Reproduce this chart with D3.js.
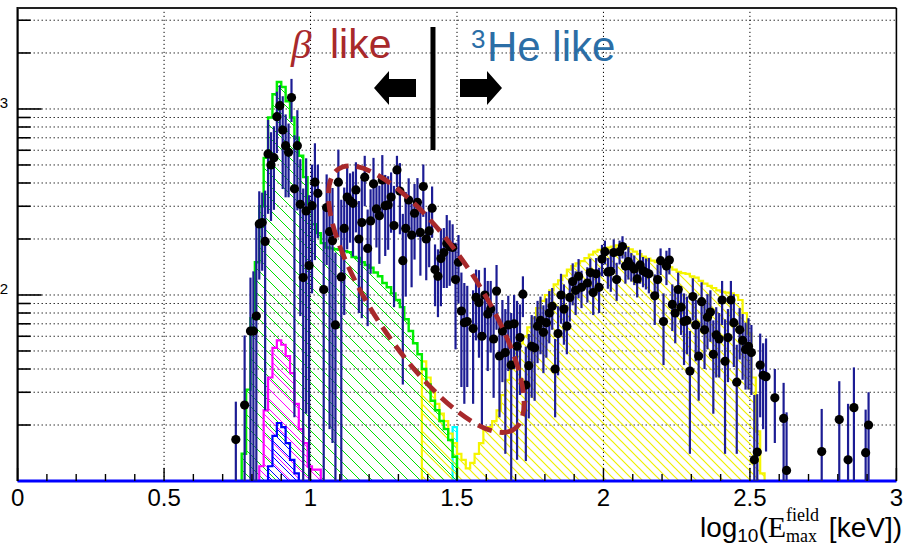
<!DOCTYPE html>
<html><head><meta charset="utf-8">
<script src="https://cdn.jsdelivr.net/npm/d3@7/dist/d3.min.js"></script>
<style>html,body{margin:0;padding:0;background:#fff}svg{display:block}</style>
</head><body>
<svg id="chart" width="906" height="547"></svg>
<script>
// ---------------- data ----------------
const xTickValues = [0, 0.5, 1, 1.5, 2, 2.5, 3];
const xTickLabels = ["0", "0.5", "1", "1.5", "2", "2.5", "3"];
const yLabelValues = [100, 1000];
const yLabelTexts = ["2", "3"];

const histBinWidth = 0.015;
const betaStart = 0.765;
const betaCounts = [14,31,75,150,300,546,900,1200,1397,1313,1100,900,700,560,430,310,240,215,190,180,
  178,176,175,172,170,160,158,150,145,140,132,126,116,110,102,94,86,74,64,55,48,40,33,27,24,21,19,16.6,13.5];
const heStart = 1.38;
const heCounts = [44,36,30,26,23,21,18,16,14,13,11.7,12.5,14,16,18.8,19.5,21,24,29,35,
  44,51,55,60,67,75,85,93,100,106,114,120,127,137,143,148,152,158,165,171,
  175,178,180,182,185,184,181,176,171,166,161,157,153,150,148,145,141,137,133,131,
  130,126,124,119,115,112,109,106,104,103,102,100,94,80,62,36,18.5,11];
const otherStart = 1.485;
const otherCounts = [19.5];
const magentaStart = 0.825;
const magentaCounts = [12,24,36,52,57,54,47,38,26,19,16,12,11.5,11.5];
const blueStart = 0.855;
const blueCounts = [12,17.5,20.5,19.5,16,13,11];

const dataBinWidth = 0.01;
const dataStart = 0.74;
const dataCounts = [
  16.7,null,null,25.6,null,64,
  64,77,241,245,194,573,500,547,909,1042,
  771,635,585,1151,372,635,307,124,283,144,
  302,404,352,null,107,295,219,196,69,404,
  125,228,336,321,311,367,200,245,430,178,
  250,396,290,267,415,302,305,336,236,470,
  362,153,228,324,210,275,315,217,383,200,
  221,293,137,126,157,169,189,182,180,121,
  150,82,71,72,null,66,97,91,60,100,
  79,84,58,105,47,64,49,69,42,70,
  53,59,101,32.8,41.7,53,52,68,73,63,
  71,80,87,40,62,100,84,68,97,118,
  106,126,110,null,116,132,103,130,110,156,
  171,133,134,169,121,171,182,143,151,143,
  138,122,145,135,132,130,null,99,121,153,
  72,143,154,89,80,107,86,72,73,39,
  98,69,47,92,65,76,81,48,61,58,
  94,44,59,94,71,34,65,57,51,53,
  49,13,14.3,42,37,36.4,null,null,28,null,
  null,21.7,11.4,null,null,null,null,null,null,null,
  null,null,null,null,14.4,null,null,null,null,null,
  21.4,null,null,13,null,24.8,null,null,null,14.2,20];
const dataErrors = [
  10,null,null,35,null,60,
  70,170,120,110,170,300,250,260,330,300,
  400,300,250,300,350,350,230,250,260,200,
  200,250,150,null,190,150,200,180,100,200,
  200,150,160,130,150,150,120,170,130,110,
  120,150,110,120,150,140,130,120,150,90,
  150,120,130,100,100,120,110,90,120,80,
  80,90,50,50,70,60,80,70,60,70,
  60,50,45,40,null,40,40,45,40,40,
  40,35,30,40,25,30,35,30,38,30,
  40,30,25,20,20,25,25,25,25,25,
  25,25,22,18,25,30,30,20,25,30,
  28,30,25,null,25,25,25,28,30,30,
  25,25,30,30,28,25,25,28,30,25,
  25,25,30,25,25,28,null,30,25,25,
  30,30,25,25,25,25,25,30,25,25,
  25,25,20,25,25,25,25,25,25,22,
  25,30,25,25,30,20,20,22,20,22,
  20,16,15,20,18,22,null,null,12,null,
  null,12,12,null,null,null,null,null,null,null,
  null,null,null,null,10,null,null,null,null,null,
  13,null,null,13,null,16,null,null,null,10,10];

// ---------------- setup ----------------
const svg = d3.select("#chart");
const x = d3.scaleLinear().domain([0, 3]).range([17.6, 896.4]);
const y = d3.scaleLog().domain([10, 3490]).range([481, 8]).clamp(true);
const y0 = y(10);
const defs = svg.append("defs");

function hatch(id, color, step, w) {
  const p = defs.append("pattern").attr("id", id).attr("patternUnits", "userSpaceOnUse")
    .attr("width", step).attr("height", step);
  p.append("path")
    .attr("d", `M-1,-1L${step+1},${step+1}M${step-1},-1L${step+1},1M-1,${step-1}L1,${step+1}`)
    .attr("stroke", color).attr("stroke-width", w).attr("fill", "none");
}
hatch("hG", "#00e000", 12, 1);
hatch("hY", "#f0f000", 9, 1.2);
hatch("hM", "#ff00ff", 10, 1);
hatch("hB", "#0000ff", 8, 1);
hatch("hC", "#00ffff", 8, 1);

// grid
const gridY = y.ticks().filter(v => v > 10);
svg.append("g").selectAll("line").data(gridY).join("line")
  .attr("x1", x(0)).attr("x2", x(3)).attr("y1", d => y(d)).attr("y2", d => y(d))
  .attr("stroke", "#000").attr("stroke-width", 1).attr("stroke-dasharray", "1.2,2.8");
svg.append("g").selectAll("line").data(xTickValues.filter(v => v > 0 && v < 3)).join("line")
  .attr("x1", d => x(d)).attr("x2", d => x(d)).attr("y1", y0).attr("y2", 8)
  .attr("stroke", "#000").attr("stroke-width", 1).attr("stroke-dasharray", "1.2,2.8");

// histograms
function histPath(start, counts, closeFull) {
  const p = d3.path();
  const xs = closeFull ? x(0) : x(start);
  p.moveTo(xs, y0);
  if (closeFull) p.lineTo(x(start), y0);
  counts.forEach((c, i) => {
    const yy = y(Math.max(c, 10));
    p.lineTo(x(start + i * histBinWidth), yy);
    p.lineTo(x(start + (i + 1) * histBinWidth), yy);
  });
  p.lineTo(x(start + counts.length * histBinWidth), y0);
  if (closeFull) p.lineTo(x(3), y0);
  return p.toString();
}
function drawHist(start, counts, color, pat, lw, full) {
  svg.append("path").attr("d", histPath(start, counts, false) + "Z")
    .attr("fill", `url(#${pat})`).attr("stroke", "none");
  svg.append("path").attr("d", histPath(start, counts, full))
    .attr("fill", "none").attr("stroke", color).attr("stroke-width", lw).attr("stroke-linejoin", "miter");
}
drawHist(otherStart, otherCounts, "#00ffff", "hC", 2.2, false);
drawHist(heStart, heCounts, "#f5f500", "hY", 2.2, false);
drawHist(betaStart, betaCounts, "#00ee00", "hG", 2.4, false);
drawHist(magentaStart, magentaCounts, "#ff00ff", "hM", 2.2, false);
drawHist(blueStart, blueCounts, "#0000ff", "hB", 2.2, true);
svg.append("line").attr("x1", x(0)).attr("x2", x(3)).attr("y1", y0).attr("y2", y0)
  .attr("stroke", "#0000ff").attr("stroke-width", 3);

// data points
const pts = dataCounts.map((v, i) => ({ v, e: dataErrors[i], xc: dataStart + (i + 0.5) * dataBinWidth }))
  .filter(d => d.v !== null);
svg.append("g").selectAll("line").data(pts).join("line")
  .attr("x1", d => x(d.xc)).attr("x2", d => x(d.xc))
  .attr("y1", d => y(Math.max(d.v - d.e, 10))).attr("y2", d => y(d.v + d.e))
  .attr("stroke", "#1c1c94").attr("stroke-width", 2.2);
svg.append("g").selectAll("circle").data(pts).join("circle")
  .attr("cx", d => x(d.xc)).attr("cy", d => y(d.v)).attr("r", 4.6).attr("fill", "#000");

// frame
svg.append("line").attr("x1", x(0)).attr("x2", x(0)).attr("y1", 7).attr("y2", y0).attr("stroke", "#000").attr("stroke-width", 2.2);
svg.append("line").attr("x1", x(0)).attr("x2", x(3)).attr("y1", 8).attr("y2", 8).attr("stroke", "#222").attr("stroke-width", 2.2);
svg.append("line").attr("x1", x(3)).attr("x2", x(3)).attr("y1", 8).attr("y2", y0).attr("stroke", "#000").attr("stroke-width", 1.6);

// y ticks
const isMajor = v => Math.abs(Math.log10(v) - Math.round(Math.log10(v))) < 1e-9;
svg.append("g").selectAll("line").data(gridY).join("line")
  .attr("x1", x(0)).attr("x2", d => x(0) + (isMajor(d) ? 24 : 13))
  .attr("y1", d => y(d)).attr("y2", d => y(d)).attr("stroke", "#000").attr("stroke-width", 1.6);
svg.append("g").selectAll("text").data(yLabelValues).join("text")
  .attr("x", 8).attr("y", d => y(d) - 1).attr("text-anchor", "end")
  .style("font-family", "'Liberation Sans', Arial, sans-serif").style("font-size", "15px")
  .text((d, i) => yLabelTexts[i]);

// x ticks
const xMinor = d3.range(0, 31).map(k => k / 10);
svg.append("g").selectAll("line").data(xMinor).join("line")
  .attr("x1", d => x(d)).attr("x2", d => x(d)).attr("y1", y0)
  .attr("y2", (d, i) => y0 - (i % 5 === 0 ? 13 : 7)).attr("stroke", "#000").attr("stroke-width", 1.4);
svg.append("g").selectAll("text").data(xTickValues).join("text")
  .attr("x", d => x(d)).attr("y", 506).attr("text-anchor", "middle")
  .style("font-family", "'Liberation Sans', Arial, sans-serif").style("font-size", "24px")
  .text((d, i) => xTickLabels[i]);

// axis title
const tg = svg.append("g");
let cx = 0;
const sans = "'Liberation Sans', Arial, sans-serif", serif = "'Liberation Serif', 'DejaVu Serif', serif";
function piece(txt, size, fam, dy) {
  const t = tg.append("text").attr("x", cx).attr("y", dy).style("font-family", fam)
    .style("font-size", size + "px").attr("xml:space", "preserve").text(txt);
  return t.node().getComputedTextLength();
}
cx += piece("log", 28, sans, 0);
cx += piece("10", 19, sans, 5);
cx += piece("(", 28, sans, 0);
cx += piece("E", 30, serif, 0);
const w1 = piece("field", 18, serif, -16);
const w2 = piece("max", 18, serif, 5);
cx += Math.max(w1, w2) + 2;
cx += piece("\u00a0[keV])", 28, sans, 0);
tg.attr("transform", `translate(${902 - cx},537)`);

// annotations
const redC = "#a8292b", blueC = "#2b6ea6";
const ec = [x(1.395), y(95)];
svg.append("ellipse").attr("cx", 0).attr("cy", 0).attr("rx", 157).attr("ry", 52)
  .attr("transform", `translate(${ec[0]},${ec[1]}) rotate(56)`)
  .attr("fill", "none").attr("stroke", redC).attr("stroke-width", 4.8).attr("stroke-dasharray", "15,8");

const lx = x(1.418);
svg.append("line").attr("x1", lx).attr("x2", lx).attr("y1", 27).attr("y2", 150)
  .attr("stroke", "#000").attr("stroke-width", 5);
svg.append("path").attr("d", `M374,88L389,71L389,79L416,79L416,97L389,97L389,105Z`).attr("fill", "#000");
svg.append("path").attr("d", `M502,88L487,71L487,79L460,79L460,97L487,97L487,105Z`).attr("fill", "#000");

const t1 = svg.append("text").attr("x", 291).attr("y", 58).attr("fill", redC).style("font-size", "41px");
t1.append("tspan").style("font-family", serif).style("font-style", "italic").text("\u03b2");
t1.append("tspan").attr("x", 330).style("font-family", sans).text("like");

const t2 = svg.append("text").attr("fill", blueC).style("font-family", sans);
t2.append("tspan").attr("x", 471).attr("y", 48).style("font-size", "26px").text("3");
t2.append("tspan").attr("x", 487).attr("y", 61).style("font-size", "42px").text("He like");
</script>
</body></html>
